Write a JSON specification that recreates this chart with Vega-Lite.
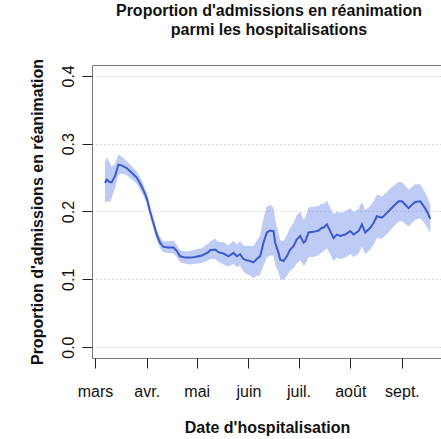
{
  "$schema": "https://vega.github.io/schema/vega-lite/v6.json",
  "width": 350,
  "height": 293,
  "autosize": {"type": "none"},
  "padding": {"left": 92, "top": 65, "right": -1, "bottom": 81},
  "title": {
    "text": ["Proportion d'admissions en réanimation", "parmi les hospitalisations"],
    "fontSize": 16,
    "fontWeight": "bold",
    "font": "Liberation Sans",
    "lineHeight": 19,
    "anchor": "middle",
    "frame": "group",
    "offset": 20,
    "dx": 2,
    "color": "#111"
  },
  "data": {
    "values": [
      {"date": "2020-03-07T00:00:00", "p": 0.242, "lo": 0.212, "hi": 0.272},
      {"date": "2020-03-08T00:00:00", "p": 0.247, "lo": 0.215, "hi": 0.280},
      {"date": "2020-03-10T00:00:00", "p": 0.243, "lo": 0.214, "hi": 0.272},
      {"date": "2020-03-11T00:00:00", "p": 0.243, "lo": 0.220, "hi": 0.266},
      {"date": "2020-03-13T00:00:00", "p": 0.252, "lo": 0.234, "hi": 0.270},
      {"date": "2020-03-15T00:00:00", "p": 0.269, "lo": 0.254, "hi": 0.284},
      {"date": "2020-03-17T00:00:00", "p": 0.268, "lo": 0.256, "hi": 0.281},
      {"date": "2020-03-20T00:00:00", "p": 0.264, "lo": 0.254, "hi": 0.274},
      {"date": "2020-03-23T00:00:00", "p": 0.257, "lo": 0.247, "hi": 0.267},
      {"date": "2020-03-26T00:00:00", "p": 0.250, "lo": 0.241, "hi": 0.259},
      {"date": "2020-03-29T00:00:00", "p": 0.237, "lo": 0.228, "hi": 0.246},
      {"date": "2020-04-01T00:00:00", "p": 0.220, "lo": 0.212, "hi": 0.228},
      {"date": "2020-04-03T00:00:00", "p": 0.200, "lo": 0.192, "hi": 0.208},
      {"date": "2020-04-05T00:00:00", "p": 0.183, "lo": 0.175, "hi": 0.191},
      {"date": "2020-04-07T00:00:00", "p": 0.166, "lo": 0.158, "hi": 0.174},
      {"date": "2020-04-09T00:00:00", "p": 0.154, "lo": 0.146, "hi": 0.162},
      {"date": "2020-04-11T00:00:00", "p": 0.148, "lo": 0.140, "hi": 0.156},
      {"date": "2020-04-14T00:00:00", "p": 0.147, "lo": 0.139, "hi": 0.156},
      {"date": "2020-04-17T00:00:00", "p": 0.147, "lo": 0.138, "hi": 0.157},
      {"date": "2020-04-19T00:00:00", "p": 0.142, "lo": 0.133, "hi": 0.151},
      {"date": "2020-04-21T00:00:00", "p": 0.134, "lo": 0.125, "hi": 0.143},
      {"date": "2020-04-24T00:00:00", "p": 0.132, "lo": 0.123, "hi": 0.141},
      {"date": "2020-04-27T00:00:00", "p": 0.132, "lo": 0.122, "hi": 0.142},
      {"date": "2020-04-30T00:00:00", "p": 0.133, "lo": 0.123, "hi": 0.144},
      {"date": "2020-05-04T00:00:00", "p": 0.135, "lo": 0.124, "hi": 0.146},
      {"date": "2020-05-08T00:00:00", "p": 0.140, "lo": 0.128, "hi": 0.153},
      {"date": "2020-05-09T00:00:00", "p": 0.143, "lo": 0.130, "hi": 0.156},
      {"date": "2020-05-12T00:00:00", "p": 0.144, "lo": 0.130, "hi": 0.160},
      {"date": "2020-05-14T00:00:00", "p": 0.140, "lo": 0.126, "hi": 0.155},
      {"date": "2020-05-17T00:00:00", "p": 0.138, "lo": 0.122, "hi": 0.155},
      {"date": "2020-05-20T00:00:00", "p": 0.134, "lo": 0.119, "hi": 0.150},
      {"date": "2020-05-23T00:00:00", "p": 0.139, "lo": 0.123, "hi": 0.157},
      {"date": "2020-05-25T00:00:00", "p": 0.134, "lo": 0.118, "hi": 0.152},
      {"date": "2020-05-27T00:00:00", "p": 0.137, "lo": 0.120, "hi": 0.156},
      {"date": "2020-05-29T00:00:00", "p": 0.130, "lo": 0.111, "hi": 0.150},
      {"date": "2020-05-31T00:00:00", "p": 0.128, "lo": 0.108, "hi": 0.149},
      {"date": "2020-06-02T00:00:00", "p": 0.127, "lo": 0.106, "hi": 0.149},
      {"date": "2020-06-04T00:00:00", "p": 0.125, "lo": 0.102, "hi": 0.149},
      {"date": "2020-06-06T00:00:00", "p": 0.130, "lo": 0.105, "hi": 0.157},
      {"date": "2020-06-08T00:00:00", "p": 0.134, "lo": 0.106, "hi": 0.165},
      {"date": "2020-06-10T00:00:00", "p": 0.154, "lo": 0.120, "hi": 0.190},
      {"date": "2020-06-12T00:00:00", "p": 0.169, "lo": 0.132, "hi": 0.207},
      {"date": "2020-06-14T00:00:00", "p": 0.172, "lo": 0.135, "hi": 0.210},
      {"date": "2020-06-16T00:00:00", "p": 0.171, "lo": 0.135, "hi": 0.206},
      {"date": "2020-06-17T00:00:00", "p": 0.154, "lo": 0.121, "hi": 0.188},
      {"date": "2020-06-19T00:00:00", "p": 0.139, "lo": 0.110, "hi": 0.168},
      {"date": "2020-06-20T00:00:00", "p": 0.129, "lo": 0.101, "hi": 0.158},
      {"date": "2020-06-22T00:00:00", "p": 0.127, "lo": 0.099, "hi": 0.156},
      {"date": "2020-06-24T00:00:00", "p": 0.134, "lo": 0.105, "hi": 0.165},
      {"date": "2020-06-26T00:00:00", "p": 0.144, "lo": 0.113, "hi": 0.176},
      {"date": "2020-06-28T00:00:00", "p": 0.149, "lo": 0.116, "hi": 0.183},
      {"date": "2020-06-30T00:00:00", "p": 0.159, "lo": 0.124, "hi": 0.195},
      {"date": "2020-07-02T00:00:00", "p": 0.164, "lo": 0.128, "hi": 0.200},
      {"date": "2020-07-04T00:00:00", "p": 0.154, "lo": 0.120, "hi": 0.188},
      {"date": "2020-07-05T00:00:00", "p": 0.156, "lo": 0.122, "hi": 0.191},
      {"date": "2020-07-07T00:00:00", "p": 0.169, "lo": 0.133, "hi": 0.206},
      {"date": "2020-07-10T00:00:00", "p": 0.170, "lo": 0.133, "hi": 0.207},
      {"date": "2020-07-13T00:00:00", "p": 0.172, "lo": 0.136, "hi": 0.208},
      {"date": "2020-07-15T00:00:00", "p": 0.176, "lo": 0.140, "hi": 0.212},
      {"date": "2020-07-16T00:00:00", "p": 0.176, "lo": 0.141, "hi": 0.211},
      {"date": "2020-07-18T00:00:00", "p": 0.181, "lo": 0.146, "hi": 0.216},
      {"date": "2020-07-20T00:00:00", "p": 0.171, "lo": 0.137, "hi": 0.206},
      {"date": "2020-07-22T00:00:00", "p": 0.161, "lo": 0.127, "hi": 0.196},
      {"date": "2020-07-24T00:00:00", "p": 0.166, "lo": 0.132, "hi": 0.200},
      {"date": "2020-07-26T00:00:00", "p": 0.164, "lo": 0.130, "hi": 0.198},
      {"date": "2020-07-29T00:00:00", "p": 0.166, "lo": 0.132, "hi": 0.200},
      {"date": "2020-08-01T00:00:00", "p": 0.171, "lo": 0.137, "hi": 0.205},
      {"date": "2020-08-03T00:00:00", "p": 0.166, "lo": 0.133, "hi": 0.199},
      {"date": "2020-08-06T00:00:00", "p": 0.171, "lo": 0.138, "hi": 0.204},
      {"date": "2020-08-08T00:00:00", "p": 0.181, "lo": 0.148, "hi": 0.214},
      {"date": "2020-08-10T00:00:00", "p": 0.169, "lo": 0.137, "hi": 0.202},
      {"date": "2020-08-13T00:00:00", "p": 0.176, "lo": 0.144, "hi": 0.208},
      {"date": "2020-08-15T00:00:00", "p": 0.183, "lo": 0.151, "hi": 0.215},
      {"date": "2020-08-17T00:00:00", "p": 0.193, "lo": 0.161, "hi": 0.225},
      {"date": "2020-08-20T00:00:00", "p": 0.191, "lo": 0.160, "hi": 0.222},
      {"date": "2020-08-23T00:00:00", "p": 0.198, "lo": 0.167, "hi": 0.229},
      {"date": "2020-08-25T00:00:00", "p": 0.203, "lo": 0.172, "hi": 0.234},
      {"date": "2020-08-27T00:00:00", "p": 0.208, "lo": 0.178, "hi": 0.238},
      {"date": "2020-08-30T00:00:00", "p": 0.215, "lo": 0.185, "hi": 0.244},
      {"date": "2020-09-01T00:00:00", "p": 0.215, "lo": 0.186, "hi": 0.243},
      {"date": "2020-09-03T00:00:00", "p": 0.210, "lo": 0.182, "hi": 0.238},
      {"date": "2020-09-05T00:00:00", "p": 0.205, "lo": 0.178, "hi": 0.232},
      {"date": "2020-09-07T00:00:00", "p": 0.210, "lo": 0.183, "hi": 0.236},
      {"date": "2020-09-09T00:00:00", "p": 0.214, "lo": 0.188, "hi": 0.240},
      {"date": "2020-09-12T00:00:00", "p": 0.215, "lo": 0.190, "hi": 0.240},
      {"date": "2020-09-14T00:00:00", "p": 0.208, "lo": 0.184, "hi": 0.232},
      {"date": "2020-09-16T00:00:00", "p": 0.200, "lo": 0.177, "hi": 0.223},
      {"date": "2020-09-18T00:00:00", "p": 0.189, "lo": 0.168, "hi": 0.210}
    ]
  },
  "encoding": {
    "x": {
      "field": "date",
      "type": "temporal",
      "scale": {"domain": [{"year": 2020, "month": 2, "date": 28, "hours": 5}, {"year": 2020, "month": 9, "date": 25}]},
      "axis": {
        "orient": "bottom",
        "values": [
          {"year": 2020, "month": 3, "date": 1},
          {"year": 2020, "month": 4, "date": 1},
          {"year": 2020, "month": 5, "date": 1},
          {"year": 2020, "month": 6, "date": 1},
          {"year": 2020, "month": 7, "date": 1},
          {"year": 2020, "month": 8, "date": 1},
          {"year": 2020, "month": 9, "date": 1}
        ],
        "labelExpr": "['janv.','févr.','mars','avr.','mai','juin','juil.','août','sept.','oct.','nov.','déc.'][month(datum.value)]",
        "tickSize": 10,
        "tickColor": "#222",
        "domain": false,
        "grid": false,
        "labelFontSize": 16,
        "labelColor": "#111",
        "labelPadding": 15,
        "labelFlush": false,
        "labelOverlap": false,
        "title": "Date d'hospitalisation",
        "titleFontSize": 16,
        "titleColor": "#111",
        "titlePadding": 20
      }
    }
  },
  "layer": [
    {
      "mark": {"type": "area", "color": "#4169E1", "opacity": 0.35},
      "encoding": {
        "y": {
          "field": "lo",
          "type": "quantitative",
          "scale": {"domain": [-0.016, 0.416], "nice": false, "zero": false},
          "axis": {
            "values": [0, 0.1, 0.2, 0.3, 0.4],
            "format": ".1f",
            "tickSize": 10,
            "tickColor": "#222",
            "domain": false,
            "labelAngle": 270,
            "labelPadding": 6,
            "labelFontSize": 16,
            "labelColor": "#111",
            "grid": true,
            "gridDash": [1, 3],
            "gridColor": "#bbb",
            "title": "Proportion d'admissions en réanimation",
            "titleFontSize": 16,
            "titleColor": "#111",
            "titlePadding": 15
          }
        },
        "y2": {"field": "hi"}
      }
    },
    {
      "mark": {"type": "line", "color": "#3a5bd0", "strokeWidth": 2},
      "encoding": {
        "y": {"field": "p", "type": "quantitative"}
      }
    }
  ],
  "config": {"view": {"stroke": "#777", "strokeWidth": 1}, "font": "Liberation Sans"}
}
